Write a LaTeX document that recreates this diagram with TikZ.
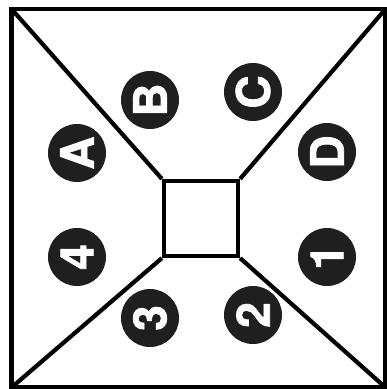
\documentclass[tikz,border=0pt]{standalone}
\usepackage{fontspec}
\setmainfont{TeX Gyre Heros}
\newfontfamily\badgefont{TeX Gyre Heros}[BoldFeatures={FakeBold=1.6}]
\begin{document}
\begin{tikzpicture}[x=1pt, y=1pt,
    frame/.style={line width=4.2pt, line join=miter},
    badge/.style={circle, fill=black!88, text=white, minimum size=58pt,
      inner sep=0pt, font=\badgefont\fontsize{46}{46}\selectfont\bfseries, rotate=90}]
  \useasboundingbox (0,0) rectangle (387,389);
  % outer frame corners
  \coordinate (tl) at (11.5,380);
  \coordinate (tr) at (385.5,380);
  \coordinate (br) at (385.5,1.5);
  \coordinate (bl) at (11.5,1.5);
  \draw[frame] (tl) rectangle (br);
  % centre square
  \node[draw, frame, minimum width=74pt, minimum height=75pt] (core) at (201,170.5) {};
  \draw[frame] (tl) -- (core.north west);
  \draw[frame] (tr) -- (core.north east);
  \draw[frame] (br) -- (core.south east);
  \draw[frame] (bl) -- (core.south west);
  % labels round the centre
  \foreach \name/\x/\y/\txt in {a/77/236/A, b/150/289/B, c/253/297/C, d/327/237/D,
      one/327/132/1, two/253/74/2, three/150/71/3, four/77/132/4} {
    \node[badge] (\name) at (\x,\y) {\txt};
  }
\end{tikzpicture}
\end{document}
